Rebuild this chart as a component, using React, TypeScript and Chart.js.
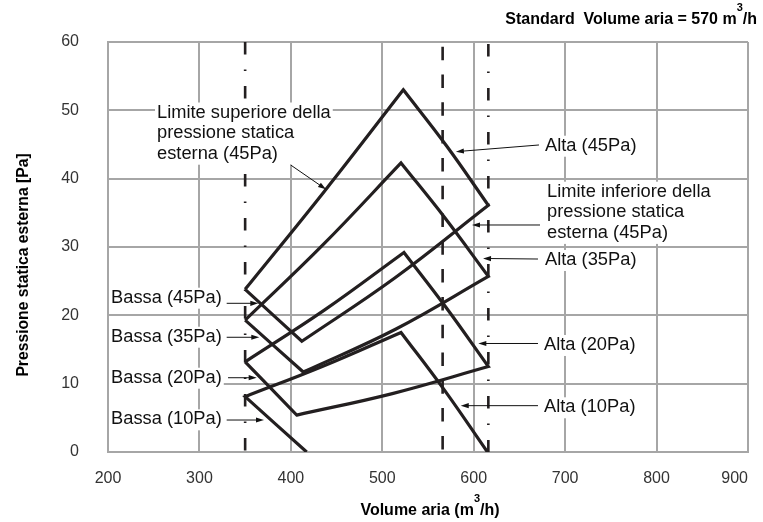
import React, { useEffect, useRef } from "react";
import { Chart, registerables } from "chart.js";

Chart.register(...registerables);

// ---- axis ticks ----
const xTickValues = [200, 300, 400, 500, 600, 700, 800, 900];
const yTickValues = [0, 10, 20, 30, 40, 50, 60];

// ---- curves: [volume m3/h, pressure Pa] ----
// 45Pa range
const upper45 = [[350, 23.8], [437, 38.2], [523, 53.0]];
const alta45 = [[523, 53.0], [570, 44.85], [616, 36.1]];
const lower45 = [[616, 36.1], [514, 25.5], [412, 16.2]];
const bassa45 = [[412, 16.2], [350, 23.8]];
// 35Pa range
const upper35 = [[350, 19.3], [435, 30.3], [520.5, 42.3]];
const alta35 = [[520.5, 42.3], [568, 34.35], [616, 25.7]];
const lower35 = [[616, 25.7], [515, 18.0], [413.6, 11.7]];
const bassa35 = [[413.6, 11.7], [350, 19.3]];
// 20Pa range
const upper20 = [[350, 13.2], [437, 20.8], [523.7, 29.2]];
const alta20 = [[523.7, 29.2], [570, 21.1], [616, 12.5]];
const lower20 = [[616, 12.5], [511, 8.55], [406.4, 5.4]];
const bassa20 = [[406.4, 5.4], [350, 13.2]];
// 10Pa range
const bassa10 = [[417.3, 0], [350, 8.1]];
const upper10 = [[350, 8.1], [435, 12.55], [520.5, 17.5]];
const alta10 = [[520.5, 17.5], [568, 9.05], [615, 0]];

// ---- reference volumes ----
const bassaLimitVolume = 350;
const standardVolume = 566;
const altaLimitVolume = 616;

// ---- annotation texts ----
const noteTexts = [
  ["Limite superiore della", "pressione statica", "esterna (45Pa)"],
  ["Alta (45Pa)"],
  ["Limite inferiore della", "pressione statica", "esterna (45Pa)"],
  ["Alta (35Pa)"],
  ["Alta (20Pa)"],
  ["Alta (10Pa)"],
  ["Bassa (45Pa)"],
  ["Bassa (35Pa)"],
  ["Bassa (20Pa)"],
  ["Bassa (10Pa)"],
];
// text anchor (volume, pressure of first baseline), arrow start, arrow tip
const noteAnchors = [
  [253.6, 48.95, 399.8, 42.0, 438.4, 38.44],
  [678.0, 44.09, 671.4, 44.93, 580.5, 43.95],
  [680.2, 37.36, 672.5, 33.22, 598.1, 33.22],
  [678.0, 27.37, 670.3, 28.24, 610.2, 28.32],
  [676.9, 14.93, 670.3, 15.88, 605.0, 15.88],
  [676.9, 5.81, 670.3, 6.78, 585.8, 6.78],
  [203.3, 21.85, 329.8, 21.76, 364.4, 21.76],
  [203.3, 16.14, 329.8, 16.79, 365.5, 16.79],
  [203.3, 10.14, 331.3, 10.87, 362.6, 10.87],
  [203.3, 4.05, 329.8, 4.68, 370.6, 4.68],
];

const FONT = "'Liberation Sans', Arial, Helvetica, sans-serif";
const INK = "#231f20";

function toPts(...edges: number[][][]) {
  const out: { x: number; y: number }[] = [];
  edges.forEach((e) => e.forEach((p) => out.push({ x: p[0], y: p[1] })));
  return out;
}

function drawRich(
  ctx: CanvasRenderingContext2D,
  segs: { t: string; sup?: boolean }[],
  x: number,
  y: number,
  align: "left" | "center" | "right",
  mainFont: string,
  supFont: string,
  rise: number
) {
  let total = 0;
  const widths: number[] = [];
  for (const s of segs) {
    ctx.font = s.sup ? supFont : mainFont;
    const w = ctx.measureText(s.t).width;
    widths.push(w);
    total += w;
  }
  let cx = align === "right" ? x - total : align === "center" ? x - total / 2 : x;
  ctx.textAlign = "left";
  ctx.textBaseline = "alphabetic";
  segs.forEach((s, i) => {
    ctx.font = s.sup ? supFont : mainFont;
    ctx.fillText(s.t, cx, s.sup ? y - rise : y);
    cx += widths[i];
  });
}

const notesPlugin = {
  id: "notesPlugin",
  afterDatasetsDraw(chart: any) {
    const ctx: CanvasRenderingContext2D = chart.ctx;
    const xs = chart.scales.x;
    const ys = chart.scales.y;
    ctx.save();
    ctx.font = `18.3px ${FONT}`;
    const lineGap = 20.6;
    noteTexts.forEach((lines, i) => {
      const a = noteAnchors[i];
      const tx = xs.getPixelForValue(a[0]);
      const ty = ys.getPixelForValue(a[1]);
      let w = 0;
      lines.forEach((l) => (w = Math.max(w, ctx.measureText(l).width)));
      const lastBase = ty + (lines.length - 1) * lineGap;
      ctx.fillStyle = "#ffffff";
      ctx.fillRect(tx - 2, ty - 15, w + 4, lastBase - ty + 21);
      ctx.fillStyle = "#111111";
      ctx.textAlign = "left";
      ctx.textBaseline = "alphabetic";
      lines.forEach((l, k) => ctx.fillText(l, tx, ty + k * lineGap));
      const x1 = xs.getPixelForValue(a[2]);
      const y1 = ys.getPixelForValue(a[3]);
      const x2 = xs.getPixelForValue(a[4]);
      const y2 = ys.getPixelForValue(a[5]);
      const ang = Math.atan2(y2 - y1, x2 - x1);
      const hl = 8;
      const hw = 2.6;
      ctx.strokeStyle = "#111111";
      ctx.lineWidth = 1;
      ctx.beginPath();
      ctx.moveTo(x1, y1);
      ctx.lineTo(x2 - Math.cos(ang) * hl * 0.8, y2 - Math.sin(ang) * hl * 0.8);
      ctx.stroke();
      ctx.beginPath();
      ctx.moveTo(x2, y2);
      ctx.lineTo(
        x2 - Math.cos(ang) * hl - Math.sin(ang) * hw,
        y2 - Math.sin(ang) * hl + Math.cos(ang) * hw
      );
      ctx.lineTo(
        x2 - Math.cos(ang) * hl + Math.sin(ang) * hw,
        y2 - Math.sin(ang) * hl - Math.cos(ang) * hw
      );
      ctx.closePath();
      ctx.fillStyle = "#111111";
      ctx.fill();
    });
    ctx.restore();
  },
  afterDraw(chart: any) {
    const ctx: CanvasRenderingContext2D = chart.ctx;
    const area = chart.chartArea;
    ctx.save();
    ctx.fillStyle = "#000000";
    drawRich(
      ctx,
      [{ t: "Standard  Volume aria = 570 m" }, { t: "3", sup: true }, { t: "/h" }],
      757,
      23.5,
      "right",
      `bold 16px ${FONT}`,
      `bold 11px ${FONT}`,
      13
    );
    drawRich(
      ctx,
      [{ t: "Volume aria (m" }, { t: "3", sup: true }, { t: "/h)" }],
      (area.left + area.right) / 2 + 2,
      515,
      "center",
      `bold 16px ${FONT}`,
      `bold 11px ${FONT}`,
      13
    );
    ctx.translate(28, 265);
    ctx.rotate(-Math.PI / 2);
    ctx.font = `bold 15.7px ${FONT}`;
    ctx.textAlign = "center";
    ctx.textBaseline = "alphabetic";
    ctx.fillText("Pressione statica esterna [Pa]", 0, 0);
    ctx.restore();
  },
};

function vline(x: number, dash: number[], offset: number) {
  return {
    data: [
      { x, y: 60 },
      { x, y: 0 },
    ],
    showLine: true,
    borderColor: INK,
    borderWidth: 2.6,
    borderDash: dash,
    borderDashOffset: offset,
    borderCapStyle: "butt",
    pointRadius: 0,
    tension: 0,
    order: 2,
  };
}

function shape(data: { x: number; y: number }[]) {
  return {
    data,
    showLine: true,
    borderColor: INK,
    borderWidth: 3.2,
    borderJoinStyle: "miter",
    pointRadius: 0,
    tension: 0.4,
    fill: false,
    order: 1,
  };
}

export default function App() {
  const ref = useRef<HTMLCanvasElement | null>(null);

  useEffect(() => {
    if (!ref.current) return;
    const chart = new Chart(ref.current, {
      type: "scatter",
      data: {
        datasets: [
          vline(bassaLimitVolume, [12.5, 15, 1.5, 15], 0),
          vline(standardVolume, [13.5, 14.3], 23.1),
          vline(altaLimitVolume, [12.5, 15, 1.5, 15], -2),
          shape(toPts(upper45, alta45, lower45, bassa45)),
          shape(toPts(upper35, alta35, lower35, bassa35)),
          shape(toPts(upper20, alta20, lower20, bassa20)),
          shape(toPts(bassa10, upper10, alta10)),
        ] as any,
      },
      options: {
        animation: false,
        responsive: false,
        devicePixelRatio: 1,
        events: [],
        layout: { padding: { top: 42, right: 15, bottom: 0, left: 0 } },
        plugins: {
          legend: { display: false },
          tooltip: { enabled: false },
          title: { display: false },
        },
        scales: {
          x: {
            type: "linear",
            min: 200,
            max: 900,
            afterFit: (s: any) => {
              s.height = 70;
              s.paddingLeft = 0;
              s.paddingRight = 0;
            },
            afterBuildTicks: (s: any) => {
              s.ticks = xTickValues.map((v) => ({ value: v }));
            },
            ticks: {
              font: { family: FONT, size: 16 },
              color: "#333333",
              padding: 17,
              maxRotation: 0,
              callback: (v: any) => (v === 900 ? "900      " : String(v)),
            },
            grid: { color: "#a6a6a6", lineWidth: 2, drawTicks: false },
            border: { color: "#a6a6a6", width: 2 },
          },
          y: {
            type: "linear",
            min: 0,
            max: 60,
            afterFit: (s: any) => {
              s.width = 108;
              s.paddingTop = 0;
              s.paddingBottom = 0;
            },
            afterBuildTicks: (s: any) => {
              s.ticks = yTickValues.map((v) => ({ value: v }));
            },
            ticks: {
              font: { family: FONT, size: 16 },
              color: "#333333",
              padding: 29,
            },
            grid: { color: "#a6a6a6", lineWidth: 2, drawTicks: false },
            border: { color: "#a6a6a6", width: 2 },
          },
        },
      } as any,
      plugins: [notesPlugin],
    });
    return () => chart.destroy();
  }, []);

  return (
    <div style={{ position: "fixed", left: 0, top: 0, width: 763, height: 522, background: "#fff" }}>
      <canvas ref={ref} width={763} height={522} style={{ display: "block" }} />
    </div>
  );
}
